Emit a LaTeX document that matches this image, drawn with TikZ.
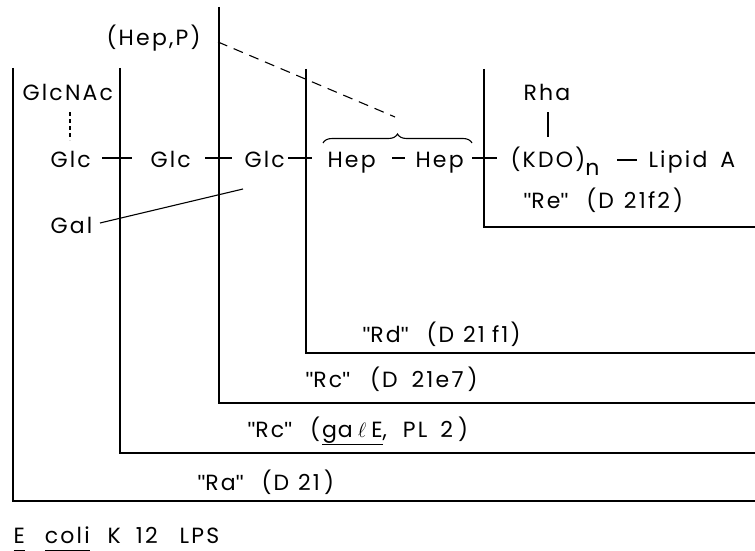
\documentclass[tikz,border=0pt]{standalone}
\usepackage{fontspec}
\setmainfont[LetterSpace=10,WordSpace=1.6]{Poppins}
\newfontfamily\qfont{Liberation Sans}
\newcommand\qm{{\qfont\char"22}}
\newcommand\gp[1]{\hspace{#1pt}}
\usetikzlibrary{decorations.pathreplacing}
\begin{document}
\begin{tikzpicture}[x=1pt,y=-1pt,line width=1.1pt,
  lbl/.style={anchor=base west,inner sep=0pt,font=\fontsize{22}{26}\selectfont},
  boxline/.style={line width=1.1pt},
  tickline/.style={line width=1.1pt},
  dashline/.style={line width=1.1pt,dash pattern=on 10pt off 7pt},
  dotline/.style={line width=1.1pt,dash pattern=on 4pt off 3pt}]
\useasboundingbox (0,0) rectangle (755,551);
% nested boxes (open to the right)
\coordinate (aT) at (13,68);  \coordinate (aB) at (13,501);  \coordinate (aR) at (755,501);
\coordinate (bT) at (120,68); \coordinate (bB) at (120,453); \coordinate (bR) at (755,453);
\coordinate (cT) at (219,7);  \coordinate (cB) at (219,403); \coordinate (cR) at (755,403);
\coordinate (dT) at (306,69); \coordinate (dB) at (306,353); \coordinate (dR) at (755,353);
\coordinate (eT) at (484,69); \coordinate (eB) at (484,227); \coordinate (eR) at (755,227);
\draw[boxline] (aT) -- (aB) -- (aR);
\draw[boxline] (bT) -- (bB) -- (bR);
\draw[boxline] (cT) -- (cB) -- (cR);
\draw[boxline] (dT) -- (dB) -- (dR);
\draw[boxline] (eT) -- (eB) -- (eR);
% texts
\node[lbl] (hepp) at (106,46) {(Hep,P)};
\node[lbl] (glcnac) at (22,100) {GlcNAc};
\node[lbl] (glc1) at (50,167) {Glc};
\node[lbl] (glc2) at (150,167) {Glc};
\node[lbl] (glc3) at (244,167) {Glc};
\node[lbl] (hep1) at (327,167) {Hep};
\node[lbl] (hep2) at (415,167) {Hep};
\node[lbl] (kdo) at (510,167) {(KDO)\raisebox{-8pt}{n}};
\node[lbl] (lipid) at (648,167) {Lipid A};
\node[lbl] (rha) at (523,100) {Rha};
\node[lbl] (re) at (523,208) {\qm Re\qm\gp{18}(\gp{2}D\gp{10}21f2\gp{3})};
\node[lbl] (gal) at (50,233) {Gal};
\node[lbl] (rd) at (362,342) {\qm Rd\qm\gp{18}(\gp{2}D\gp{9}21\gp{7}f1\gp{2})};
\node[lbl] (rc1) at (305,387) {\qm Rc\qm\gp{20}(\gp{2}D\gp{14}21e7\gp{4})};
\node[lbl] (rc2) at (247,437) {\qm Rc\qm\gp{18}(\gp{2}\underline{g\gp{1}a\gp{5}$\ell$\gp{5}E},\gp{16}PL\gp{13}2\gp{5})};
\node[lbl] (ra) at (197,490) {\qm Ra\qm\gp{18}(\gp{2}D\gp{9}21\gp{4})};
\node[lbl] (title) at (13,543) {\underline{E\vphantom{p}}\gp{20}\underline{coli\vphantom{p}}\gp{18}K\gp{15}12\gp{22}LPS};
% ticks crossing box lines
\coordinate (t1a) at (102,158); \coordinate (t1b) at (132,158);
\coordinate (t2a) at (205,158); \coordinate (t2b) at (232,158);
\coordinate (t3a) at (288,158); \coordinate (t3b) at (312,158);
\coordinate (t4a) at (472,158); \coordinate (t4b) at (497,158);
\draw[tickline] (t1a) -- (t1b);
\draw[tickline] (t2a) -- (t2b);
\draw[tickline] (t3a) -- (t3b);
\draw[tickline] (t4a) -- (t4b);
% dashes between residues
\coordinate (h1) at (392,158); \coordinate (h2) at (405,158);
\draw[tickline] (h1) -- (h2);
\coordinate (l1) at (617,160); \coordinate (l2) at (637,160);
\draw[tickline] (l1) -- (l2);
% brace over Hep-Hep
\coordinate (brL) at (323,143); \coordinate (brR) at (472,143);
\draw[line width=1.1pt,decorate,decoration={brace,amplitude=9pt}] (brL) -- (brR);
% dashed line from (Hep,P)
\coordinate (hpS) at (218,42); \coordinate (hpE) at (395,117);
\draw[dashline] (hpS) -- (hpE);
% GlcNAc to Glc
\coordinate (gnA) at (70,112); \coordinate (gnB) at (70,140);
\draw[dotline] (gnA) -- (gnB);
% Rha to KDO
\coordinate (rhA) at (548,112); \coordinate (rhB) at (548,137);
\draw[tickline] (rhA) -- (rhB);
% Gal to Glc
\coordinate (gaA) at (100,223); \coordinate (gaB) at (243,189);
\draw[tickline] (gaA) -- (gaB);
\end{tikzpicture}
\end{document}
